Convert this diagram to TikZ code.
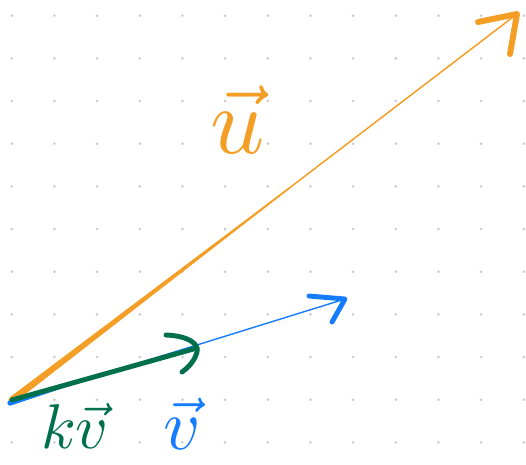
\documentclass[tikz,border=0pt]{standalone}
\usepackage{amsmath}
\usepackage{tikz}
\usetikzlibrary{calc}
\definecolor{PenOrange}{RGB}{245,158,38}
\definecolor{PenBlue}{RGB}{22,124,255}
\definecolor{PenGreen}{RGB}{0,112,76}
\definecolor{DotGray}{RGB}{200,200,200}

\begin{document}
\begin{tikzpicture}[x=0.02cm,y=-0.02cm,
  pen/.style={line cap=round,line join=round,line width=3.4pt},
  vlabel/.style={inner sep=0pt}]
\useasboundingbox (0,0) rectangle (526,464);
% dot grid
\foreach \i in {0,...,12}
  \foreach \j in {0,...,10}
    \fill[DotGray] (11.7+42.67*\i,15.7+42.67*\j) circle (0.028cm);
\coordinate (O) at (12,400);
\coordinate (Ob) at (10,403);
\coordinate (U) at (517,14);
\coordinate (V) at (345,299);
\coordinate (KV) at (197,348);
\coordinate (Um) at ($(O)!0.55!(U)$);
\coordinate (Vm) at ($(Ob)!0.3!(V)$);
% u
\draw[PenOrange,line width=0.85pt] (O) -- (U);
\fill[PenOrange] ($(O)!2pt!90:(U)$) -- ($(Um)!0.4pt!-90:(O)$)
  -- ($(Um)!0.4pt!90:(O)$) -- ($(O)!2pt!-90:(U)$) -- cycle;
\fill[PenOrange] (O) circle (2pt);
\draw[PenOrange,pen] ($(U)+(-39,8)$) -- (U) -- ($(U)+(-7,40)$);
% v
\draw[PenBlue,line width=0.8pt] (Ob) -- (V);
\fill[PenBlue] ($(Ob)!1.5pt!90:(V)$) -- ($(Vm)!0.3pt!-90:(Ob)$)
  -- ($(Vm)!0.3pt!90:(Ob)$) -- ($(Ob)!1.5pt!-90:(V)$) -- cycle;
\fill[PenBlue] (Ob) circle (1.5pt);
\draw[PenBlue,pen,line width=2.8pt] ($(V)+(-36,-3)$) -- (V) -- ($(V)+(-13,23)$);
% kv
\draw[PenGreen,pen,line width=2.8pt] (O) -- (KV);
\draw[PenGreen,pen,line width=2.8pt] ($(KV)+(-31,-13)$)
  .. controls ($(KV)+(-8,-12)$) and ($(KV)+(2,-4)$) .. ($(KV)+(0,4)$)
  .. controls ($(KV)+(-2,12)$) and ($(KV)+(-8,19)$) .. ($(KV)+(-15,24)$);
% labels
\node[vlabel,PenOrange,scale=5.4] (ulab) at (238,120) {$\vec{u}$};
\node[vlabel,PenBlue,scale=4.1] (vlab) at (182,424) {$\vec{v}$};
\node[vlabel,PenGreen,scale=3.6] (kvlab) at (75,426) {$k\vec{v}$};
\end{tikzpicture}
\end{document}
